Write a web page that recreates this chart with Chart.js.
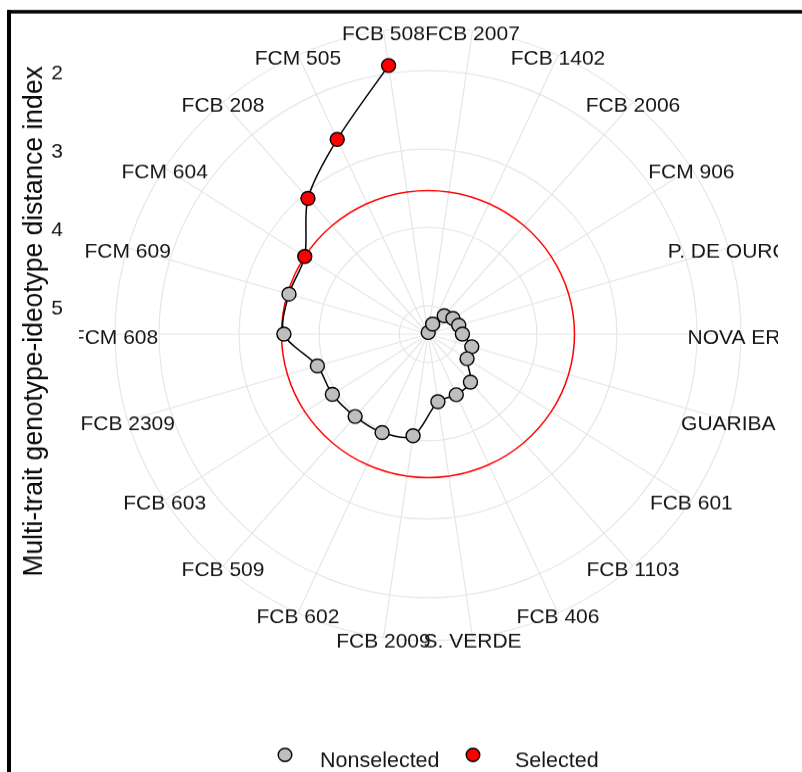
<!DOCTYPE html>
<html>
<head>
<meta charset="utf-8">
<script src="https://cdn.jsdelivr.net/npm/chart.js@4.4.1/dist/chart.umd.min.js"></script>
<style>
  html, body { margin: 0; padding: 0; background: #ffffff; overflow: hidden; }
  canvas { display: block; }
</style>
</head>
<body>
<canvas id="c" width="802" height="788" style="width:802px;height:772px"></canvas>
<script>
// ---- data (clockwise from the top) ----
const genotypes = ['FCB 2007', 'FCB 1402', 'FCB 2006', 'FCM 906', 'P. DE OURO', 'NOVA ERA',
  'GUARIBA', 'FCB 601', 'FCB 1103', 'FCB 406', 'S. VERDE', 'FCB 2009', 'FCB 602', 'FCB 509',
  'FCB 603', 'FCB 2309', 'FCM 608', 'FCM 609', 'FCM 604', 'FCB 208', 'FCM 505', 'FCB 508'];
const mgidi = [5.34, 5.22, 5.05, 4.99, 4.96, 4.93,
  4.79, 4.78, 4.55, 4.51, 4.49, 4.05, 3.98, 3.97,
  3.94, 3.92, 3.56, 3.55, 3.53, 3.07, 2.63, 1.90];
const status = ['Nonselected', 'Nonselected', 'Nonselected', 'Nonselected', 'Nonselected', 'Nonselected',
  'Nonselected', 'Nonselected', 'Nonselected', 'Nonselected', 'Nonselected', 'Nonselected', 'Nonselected', 'Nonselected',
  'Nonselected', 'Nonselected', 'Nonselected', 'Nonselected', 'Selected', 'Selected', 'Selected', 'Selected'];
const cutoff = 3.53;
const radialTicks = [2, 3, 4, 5];
const radialRange = [1.45, 5.36];          // outer edge value, centre value (reversed axis)
const legendItems = ['Nonselected', 'Selected'];
const axisTitle = 'Multi-trait genotype-ideotype distance index';

// ---- styles ----
const COLORS = { Nonselected: '#BEBEBE', Selected: '#FF0000' };
const FONT = '"Liberation Sans", Arial, Helvetica, sans-serif';
const TXT = '#151515';
const GRID = '#E6E6E6';

const decor = {
  id: 'decor',
  afterDraw(chart) {
    const ctx = chart.ctx;
    const r = chart.scales.r;
    ctx.save();

    // category labels, centred on the outer circle, clipped to the panel
    ctx.save();
    ctx.beginPath();
    ctx.rect(79, 0, 778 - 79, chart.height);
    ctx.clip();
    ctx.font = '21px ' + FONT;
    ctx.fillStyle = TXT;
    ctx.textAlign = 'center';
    ctx.textBaseline = 'alphabetic';
    genotypes.forEach((g, i) => {
      const p = r.getPointPosition(i, r.drawingArea);
      ctx.fillText(g, p.x, p.y + 10);
    });
    ctx.restore();

    // radial axis tick labels on the left
    ctx.font = '21px ' + FONT;
    ctx.fillStyle = TXT;
    ctx.textAlign = 'right';
    ctx.textBaseline = 'alphabetic';
    radialTicks.forEach(v => {
      const y = r.yCenter - r.getDistanceFromCenterForValue(v);
      ctx.fillText(String(v), 63, y + 9);
    });

    // axis title
    ctx.save();
    ctx.translate(42, 328);
    ctx.rotate(-Math.PI / 2);
    ctx.font = '27px ' + FONT;
    ctx.fillStyle = '#0a0a0a';
    ctx.textAlign = 'center';
    ctx.textBaseline = 'alphabetic';
    ctx.fillText(axisTitle, 0, 0);
    ctx.restore();

    // legend
    const legX = [285, 473];
    const legTextX = [320, 515];
    legendItems.forEach((name, k) => {
      ctx.beginPath();
      ctx.arc(legX[k], 770.5, 6.8, 0, Math.PI * 2);
      ctx.fillStyle = COLORS[name];
      ctx.fill();
      ctx.lineWidth = 1.4;
      ctx.strokeStyle = '#000';
      ctx.stroke();
      ctx.font = '21.5px ' + FONT;
      ctx.fillStyle = TXT;
      ctx.textAlign = 'left';
      ctx.fillText(name, legTextX[k], 783);
    });

    // frame
    ctx.fillStyle = '#000';
    ctx.fillRect(7, 10.2, chart.width, 3.6);
    ctx.fillRect(7, 10.2, 4, chart.height);
    ctx.restore();
  }
};

new Chart(document.getElementById('c'), {
  type: 'radar',
  data: {
    labels: genotypes,
    datasets: [
      {
        label: 'MGIDI',
        data: mgidi.concat([null]),      // trailing gap keeps the path open
        borderColor: '#000',
        borderWidth: 1.5,
        tension: 0.3,
        fill: false,
        pointRadius: 7,
        pointBorderWidth: 1.4,
        pointBorderColor: '#000',
        pointBackgroundColor: status.map(s => COLORS[s]),
        pointStyle: 'circle',
        order: 0
      },
      {
        label: 'Cutoff',
        data: genotypes.map(() => cutoff),
        borderColor: '#FF0000',
        borderWidth: 1.5,
        tension: 0.338,
        fill: false,
        pointRadius: 0,
        order: 1
      }
    ]
  },
  options: {
    responsive: false,
    animation: false,
    devicePixelRatio: 1,
    layout: { padding: { left: 115, top: 28, right: 61, bottom: 134 } },
    elements: { line: { capBezierPoints: false } },
    plugins: { legend: { display: false }, tooltip: { enabled: false } },
    scales: {
      r: {
        reverse: true,
        min: radialRange[0],
        max: radialRange[1],
        startAngle: 180 / genotypes.length,
        afterBuildTicks: s => {
          s.ticks = [radialRange[1], radialRange[0]].concat(radialTicks).map(v => ({ value: v }));
        },
        grid: { circular: true, color: GRID, lineWidth: 1.2 },
        angleLines: { color: GRID, lineWidth: 1.2 },
        ticks: { display: false },
        pointLabels: { display: false }
      }
    }
  },
  plugins: [decor]
});
</script>
</body>
</html>
